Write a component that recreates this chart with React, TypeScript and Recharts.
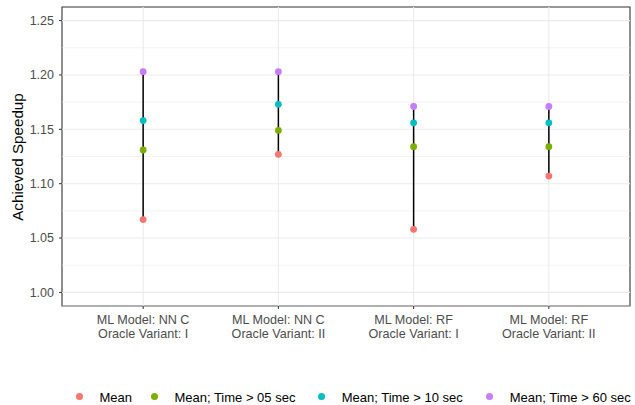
import type { ReactElement } from "react";
import {
  ComposedChart,
  ErrorBar,
  ReferenceArea,
  ReferenceLine,
  Scatter,
  XAxis,
  YAxis,
} from "recharts";

const categories = [
  ["ML Model: NN C", "Oracle Variant: I"],
  ["ML Model: NN C", "Oracle Variant: II"],
  ["ML Model: RF", "Oracle Variant: I"],
  ["ML Model: RF", "Oracle Variant: II"],
];

const seriesNames = ["Mean", "Mean; Time > 05 sec", "Mean; Time > 10 sec", "Mean; Time > 60 sec"];
const seriesColors = ["#F8766D", "#7CAE00", "#00BFC4", "#C77CFF"];

const meanAll = [1.067, 1.127, 1.058, 1.107];
const mean05 = [1.131, 1.149, 1.134, 1.134];
const mean10 = [1.158, 1.173, 1.156, 1.156];
const mean60 = [1.203, 1.203, 1.171, 1.171];

const yMajor = [1.0, 1.05, 1.1, 1.15, 1.2, 1.25];
const yMinor = [0.9875, 1.025, 1.075, 1.125, 1.175, 1.225];
const xTicks = [1, 2, 3, 4];

const FONT = "'Liberation Sans', Arial, Helvetica, sans-serif";
const GRID = "#EBEBEB";

const seriesValues = [meanAll, mean05, mean10, mean60];

// vertical range per category: lowest to highest of the four means
const rangeData = xTicks.map((x, i) => {
  const vals = seriesValues.map((s) => s[i]);
  const low = Math.min(...vals);
  const high = Math.max(...vals);
  return { x, y: low, err: [0, high - low] };
});

function XTick(props: any): ReactElement {
  const { x, y, payload } = props;
  const lines = categories[payload.value - 1] ?? [];
  return (
    <g>
      {lines.map((l, i) => (
        <text
          key={i}
          x={x}
          y={y + 13.2 + i * 14}
          textAnchor="middle"
          fill="#4D4D4D"
          fontSize={12.6}
          fontFamily={FONT}
        >
          {l}
        </text>
      ))}
    </g>
  );
}

function Dot(color: string) {
  return (props: any): ReactElement => <circle cx={props.cx} cy={props.cy} r={3.4} fill={color} />;
}

function Legend(): ReactElement {
  const dotX = [79, 154, 321.3, 489.3];
  return (
    <>
      {seriesNames.map((name, i) => (
        <div key={name}>
          <span
            style={{
              position: "absolute",
              left: dotX[i] - 3.5,
              top: 396 - 3.5,
              width: 7,
              height: 7,
              borderRadius: "50%",
              background: seriesColors[i],
            }}
          />
          <span
            style={{
              position: "absolute",
              left: dotX[i] + 20.4,
              top: 389.5,
              fontSize: 13,
              fontFamily: FONT,
              color: "#000",
              whiteSpace: "nowrap",
              lineHeight: "15px",
            }}
          >
            {name}
          </span>
        </div>
      ))}
    </>
  );
}

export default function App(): ReactElement {
  return (
    <div style={{ position: "absolute", left: 0, top: 0, width: 635, height: 405, background: "#fff", overflow: "hidden" }}>
      <ComposedChart width={635} height={405} margin={{ top: 7, right: 5, bottom: 59, left: 22 }}>
        <XAxis
          type="number"
          dataKey="x"
          domain={[0.4, 4.6]}
          ticks={xTicks}
          allowDataOverflow
          axisLine={false}
          tickLine={{ stroke: "#333333" }}
          tickSize={3}
          tickMargin={2}
          height={40}
          tick={<XTick />}
          interval={0}
        />
        <YAxis
          type="number"
          domain={[0.9875, 1.2625]}
          ticks={yMajor}
          allowDataOverflow
          axisLine={false}
          tickLine={{ stroke: "#333333" }}
          tickSize={3}
          tickMargin={5}
          width={40}
          tickFormatter={(v: number) => v.toFixed(2)}
          tick={{ fill: "#4D4D4D", fontSize: 12.5, fontFamily: FONT }}
          interval={0}
        />
        {yMinor.map((v) => (
          <ReferenceLine key={`mn${v}`} y={v} stroke={GRID} strokeWidth={0.6} />
        ))}
        {yMajor.map((v) => (
          <ReferenceLine key={`mj${v}`} y={v} stroke={GRID} strokeWidth={1.1} />
        ))}
        {xTicks.map((v) => (
          <ReferenceLine key={`vx${v}`} x={v} stroke={GRID} strokeWidth={1.1} />
        ))}
        <Scatter data={rangeData} dataKey="y" isAnimationActive={false} shape={() => <g />}>
          <ErrorBar dataKey="err" direction="y" width={0} stroke="#000" strokeWidth={1.5} isAnimationActive={false} />
        </Scatter>
        {seriesValues.map((vals, s) => (
          <Scatter
            key={seriesNames[s]}
            name={seriesNames[s]}
            data={xTicks.map((x, i) => ({ x, y: vals[i] }))}
            dataKey="y"
            isAnimationActive={false}
            shape={Dot(seriesColors[s])}
          />
        ))}
        <ReferenceArea
          x1={0.4}
          x2={4.6}
          y1={0.9875}
          y2={1.2625}
          fill="none"
          stroke="#333333"
          strokeWidth={1.1}
          ifOverflow="visible"
        />
      </ComposedChart>
      <div
        style={{
          position: "absolute",
          left: 16.5,
          top: 157,
          transform: "translate(-50%, -50%) rotate(-90deg)",
          fontSize: 15.2,
          fontFamily: FONT,
          color: "#000",
          whiteSpace: "nowrap",
        }}
      >
        Achieved Speedup
      </div>
      <Legend />
    </div>
  );
}
